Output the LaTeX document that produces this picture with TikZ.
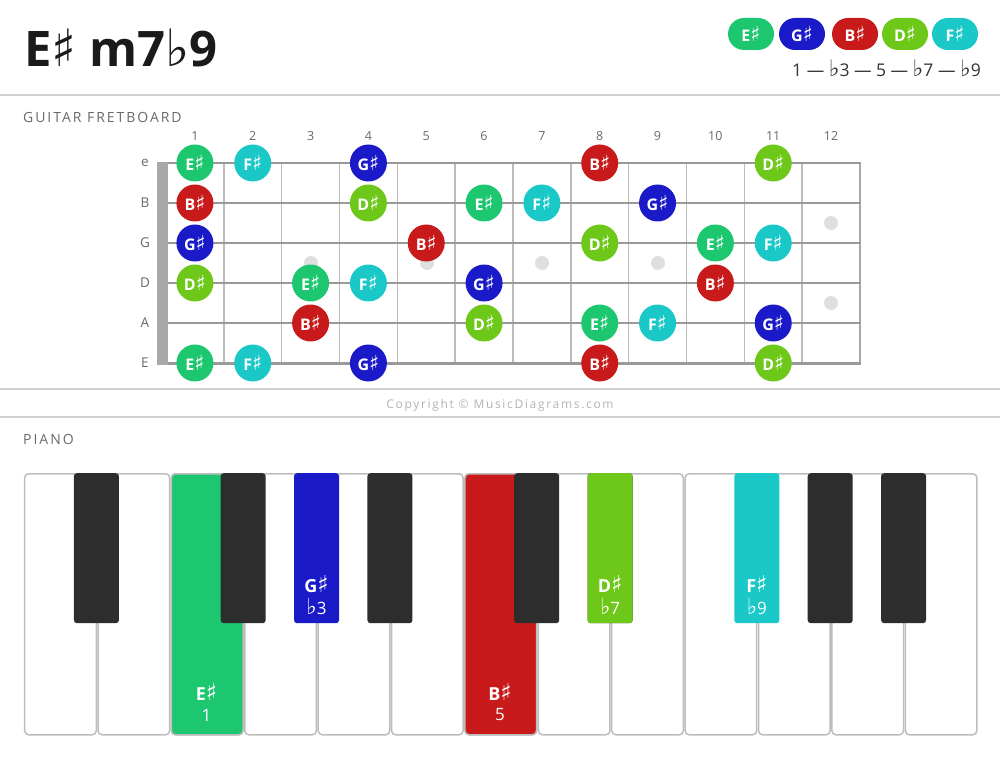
\documentclass[tikz,border=0pt]{standalone}
\usepackage{fontspec}
\setmainfont{Open Sans}
\newfontfamily\symf[Scale=1.3]{DejaVu Sans}
\newfontfamily\symt[Scale=1.05]{DejaVu Sans}
\newfontfamily\spacedf[LetterSpace=14]{Open Sans}
\newcommand{\shp}{{\symf\mdseries ♯}}
\newcommand{\flt}{{\symf\mdseries ♭}}
\newcommand{\tshp}{{\symt\mdseries ♯}}
\newcommand{\tflt}{{\symt\mdseries ♭}}
\definecolor{cE}{HTML}{1DC770}
\definecolor{cG}{HTML}{1A1AC8}
\definecolor{cB}{HTML}{C81A1A}
\definecolor{cD}{HTML}{6EC81A}
\definecolor{cF}{HTML}{1AC8C8}
\definecolor{sepc}{HTML}{D0D0D0}
\definecolor{labc}{HTML}{6A6A6A}
\definecolor{fretc}{HTML}{BBBBBB}
\definecolor{copyc}{HTML}{B4B4B4}
\definecolor{strc}{HTML}{999999}
\definecolor{nutc}{HTML}{A8A8A8}
\definecolor{dotc}{HTML}{DFDFDF}
\definecolor{keyb}{HTML}{BDBDBD}
\definecolor{blk}{HTML}{2D2D2D}
\definecolor{txt}{HTML}{1A1A1A}
\definecolor{ivc}{HTML}{333333}
\begin{document}
\begin{tikzpicture}[x=1pt,y=-1pt,
  sepline/.style={draw=sepc, line width=1.6pt},
  seclabel/.style={anchor=base west, text=labc, font=\spacedf\fontsize{14}{14}\selectfont},
  pill/.style={rectangle, rounded corners=16pt, minimum width=46pt, minimum height=32pt, inner sep=0pt, text=white, font=\fontsize{16}{16}\selectfont\bfseries},
  note/.style={circle, minimum size=37pt, inner sep=0pt, text=white, font=\fontsize{16}{16}\selectfont\bfseries},
  fretnum/.style={text=labc, font=\fontsize{12.5}{12}\selectfont},
  strlab/.style={text=labc, font=\fontsize{13.5}{13}\selectfont},
  fretline/.style={draw=fretc, line width=1.5pt},
  inlay/.style={circle, fill=dotc, minimum size=14pt, inner sep=0pt},
  wkey/.style={draw=keyb, line width=1.5pt, fill=white, rounded corners=4pt, minimum width=71.6pt, minimum height=261pt, inner sep=0pt, anchor=north west},
  bkey/.style={fill=blk, rounded corners=3pt, minimum width=45pt, minimum height=150pt, inner sep=0pt, anchor=north},
  keynote/.style={text=white, font=\fontsize{18}{18}\selectfont\bfseries},
  keyiv/.style={text=white, font=\fontsize{17}{17}\selectfont}
]
\useasboundingbox[fill=white] (0,0) rectangle (1000,759);

% title
\node[anchor=base west, inner sep=0pt, text=txt, font=\fontsize{49}{49}\selectfont\bfseries] (title) at (24,67) {E\tshp\ m7\tflt9};

% legend
\node[pill, fill=cE] (lE) at (751,34) {E\shp};
\node[pill, fill=cG] (lG) at (802,34) {G\shp};
\node[pill, fill=cB] (lB) at (855,34) {B\shp};
\node[pill, fill=cD] (lD) at (905,34) {D\shp};
\node[pill, fill=cF] (lF) at (955,34) {F\shp};
\node[anchor=base east, inner sep=0pt, text=ivc, font=\fontsize{17.5}{17}\selectfont] (iv) at (981,77) {1 — \flt3 — 5 — \flt7 — \flt9};

% separators
\coordinate (s1a) at (0,95); \coordinate (s1b) at (1000,95);
\coordinate (s2a) at (0,389); \coordinate (s2b) at (1000,389);
\coordinate (s3a) at (0,417); \coordinate (s3b) at (1000,417);
\draw[sepline] (s1a) -- (s1b);
\draw[sepline] (s2a) -- (s2b);
\draw[sepline] (s3a) -- (s3b);

% guitar
\node[seclabel, inner sep=0pt] (gl) at (23,123) {GUITAR FRETBOARD};

\foreach \k in {1,...,12} {
  \coordinate (ft\k) at ({166+57.83*\k},163);
  \coordinate (fb\k) at ({166+57.83*\k},363);
  \draw[fretline] (ft\k) -- (fb\k);
  \node[fretnum, anchor=base] (fn\k) at ({166+57.83*(\k-0.5)},141) {\k};
}
\draw[draw=nutc, line width=2pt] (ft12) -- (fb12);

\foreach \s/\lab/\w in {1/e/1.9,2/B/2.1,3/G/2.3,4/D/2.5,5/A/2.7,6/E/3.0} {
  \coordinate (sa\s) at (157,{163+40*(\s-1)});
  \coordinate (sb\s) at (861,{163+40*(\s-1)});
  \draw[draw=strc, line width=\w pt] (sa\s) -- (sb\s);
  \node[strlab] (sl\s) at (145,{163+40*(\s-1)}) {\lab};
}
\fill[nutc] (157,162) rectangle (168,365);

\node[inlay] (d3) at (311,263) {};
\node[inlay] (d5) at (427,263) {};
\node[inlay] (d7) at (542,263) {};
\node[inlay] (d9) at (658,263) {};
\node[inlay] (d12a) at (831,223) {};
\node[inlay] (d12b) at (831,303) {};

\foreach \s/\f/\n/\c in {
  1/1/E/cE, 1/2/F/cF, 1/4/G/cG, 1/8/B/cB, 1/11/D/cD,
  2/1/B/cB, 2/4/D/cD, 2/6/E/cE, 2/7/F/cF, 2/9/G/cG,
  3/1/G/cG, 3/5/B/cB, 3/8/D/cD, 3/10/E/cE, 3/11/F/cF,
  4/1/D/cD, 4/3/E/cE, 4/4/F/cF, 4/6/G/cG, 4/10/B/cB,
  5/3/B/cB, 5/6/D/cD, 5/8/E/cE, 5/9/F/cF, 5/11/G/cG,
  6/1/E/cE, 6/2/F/cF, 6/4/G/cG, 6/8/B/cB, 6/11/D/cD} {
  \node[note, fill=\c] (n\s-\f) at ({166+57.83*(\f-0.5)},{163+40*(\s-1)}) {\n\shp};
}

% copyright
\node[text=copyc, font=\spacedf\fontsize{12}{12}\selectfont] (copy) at (500,405) {Copyright © MusicDiagrams.com};

% piano
\node[seclabel, inner sep=0pt] (pl) at (23,444) {PIANO};

\foreach \i in {0,...,12} {
  \node[wkey] (w\i) at ({23+73.385*\i+0.9},473) {};
}
\node[wkey, fill=cE] (wE) at ({23+73.385*2+0.9},473) {};
\node[wkey, fill=cB] (wB) at ({23+73.385*6+0.9},473) {};

\foreach \k in {1,3,5,7,8,11,12} {
  \node[bkey] (b\k) at ({23+73.385*\k},473) {};
}
\node[bkey, fill=cG] (bG) at ({23+73.385*4},473) {};
\node[bkey, fill=cD] (bD) at ({23+73.385*8},473) {};
\node[bkey, fill=cF] (bF) at ({23+73.385*10},473) {};

\node[keynote] (tE) at ({23+73.385*2.5},692) {E\shp};
\node[keyiv] (iE) at ({23+73.385*2.5},715) {1};
\node[keynote] (tB) at ({23+73.385*6.5},692) {B\shp};
\node[keyiv] (iB) at ({23+73.385*6.5},715) {5};
\node[keynote] (tG) at ({23+73.385*4},584) {G\shp};
\node[keyiv] (iG) at ({23+73.385*4},606) {\flt3};
\node[keynote] (tD) at ({23+73.385*8},584) {D\shp};
\node[keyiv] (iD) at ({23+73.385*8},606) {\flt7};
\node[keynote] (tF) at ({23+73.385*10},584) {F\shp};
\node[keyiv] (iF) at ({23+73.385*10},606) {\flt9};
\end{tikzpicture}
\end{document}
